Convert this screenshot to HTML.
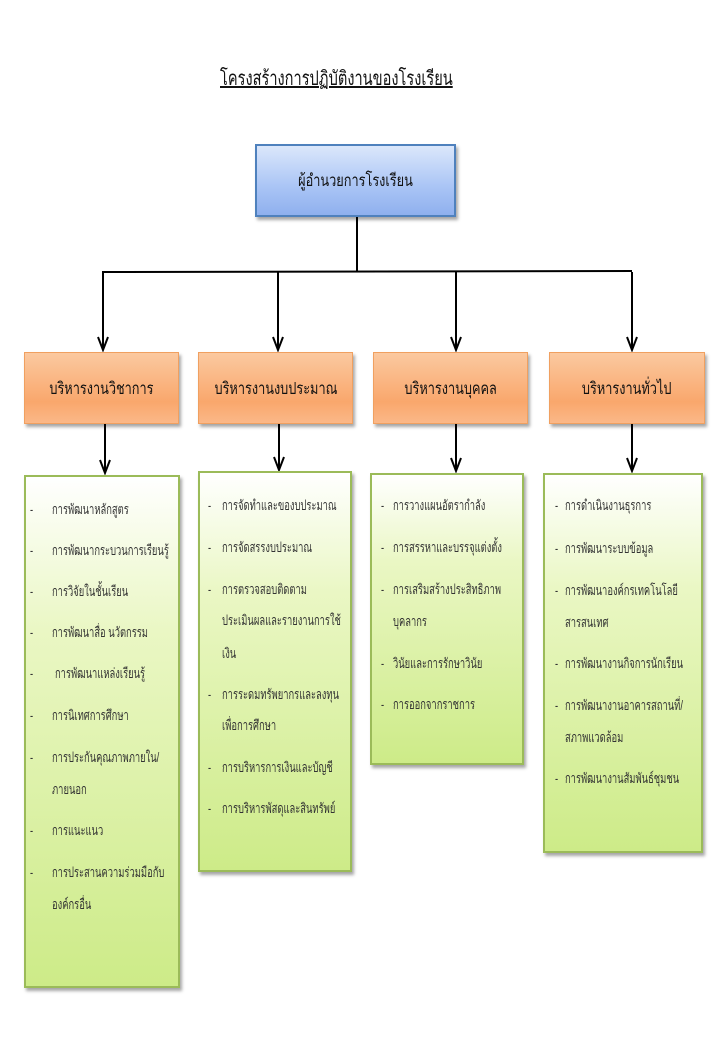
<!DOCTYPE html>
<html><head><meta charset="utf-8"><style>
body{margin:0;width:720px;height:1040px;background:#fff;position:relative;overflow:hidden;font-family:"Liberation Sans","Noto Sans CJK SC",sans-serif;color:#222}
.a{position:absolute;white-space:nowrap}
.t .a{transform:scaleX(0.67);transform-origin:0 0}
.t{font-size:14px;line-height:16px;color:#333}
.box{position:absolute;box-sizing:border-box}
.or{background:linear-gradient(#fbc9a0,#f9a76c 70%,#fbb888);border:1px solid #f0a060;box-shadow:2px 3px 3px rgba(0,0,0,.35)}
.gr{background:linear-gradient(#fff 0%,#eaf7c4 30%,#cdeb88 100%);border:2px solid #9bbb59;box-shadow:2px 3px 3px rgba(0,0,0,.35)}
.h{font-size:17px;text-align:center;display:flex;align-items:center;justify-content:center;color:#111}
.h span{display:inline-block;transform:scaleX(0.75);white-space:nowrap}
</style></head><body>
<div class="a" style="left:220px;top:62px;font-size:20px;text-decoration:underline;color:#111;transform:scaleX(0.73);transform-origin:0 0">โครงสร้างการปฏิบัติงานของโรงเรียน</div>

<div class="box h" style="left:255px;top:144px;width:201px;height:73px;background:linear-gradient(#dbe7fb,#a9c4f5 60%,#8fb0ee);border:2px solid #4f81bd;box-shadow:2px 3px 3px rgba(0,0,0,.35)"><span>ผู้อำนวยการโรงเรียน</span></div>

<svg class="a" style="left:0;top:0" width="720" height="1040">
<g stroke="#000" stroke-width="2" fill="none">
<line x1="357" y1="217" x2="357" y2="272"/>
<line x1="102" y1="272" x2="632" y2="271"/>
<line x1="103" y1="272" x2="103" y2="350"/><path d="M98,337 L103,350 L108,337"/>
<line x1="278" y1="272" x2="278" y2="350"/><path d="M273,337 L278,350 L283,337"/>
<line x1="456" y1="272" x2="456" y2="350"/><path d="M451,337 L456,350 L461,337"/>
<line x1="632" y1="272" x2="632" y2="350"/><path d="M627,337 L632,350 L637,337"/>
<line x1="105" y1="424" x2="105" y2="473"/><path d="M100,460 L105,473 L110,460"/>
<line x1="279" y1="424" x2="279" y2="470"/><path d="M274,457 L279,470 L284,457"/>
<line x1="456" y1="424" x2="456" y2="471"/><path d="M451,458 L456,471 L461,458"/>
<line x1="632" y1="424" x2="632" y2="471"/><path d="M627,458 L632,471 L637,458"/>
</g></svg>

<div class="box or h" style="left:24px;top:352px;width:155px;height:72px"><span>บริหารงานวิชาการ</span></div>
<div class="box or h" style="left:198px;top:352px;width:155px;height:72px"><span>บริหารงานงบประมาณ</span></div>
<div class="box or h" style="left:373px;top:352px;width:155px;height:72px"><span>บริหารงานบุคคล</span></div>
<div class="box or h" style="left:549px;top:352px;width:156px;height:72px"><span>บริหารงานทั่วไป</span></div>

<div class="box gr" style="left:24px;top:475px;width:156px;height:513px"></div>
<div class="box gr" style="left:198px;top:471px;width:154px;height:401px"></div>
<div class="box gr" style="left:370px;top:473px;width:154px;height:292px"></div>
<div class="box gr" style="left:543px;top:473px;width:160px;height:380px"></div>

<div class="t">
<div class="a" style="left:30px;top:501px">-</div><div class="a" style="left:52px;top:501px">การพัฒนาหลักสูตร</div>
<div class="a" style="left:30px;top:542px">-</div><div class="a" style="left:52px;top:542px">การพัฒนากระบวนการเรียนรู้</div>
<div class="a" style="left:30px;top:583px">-</div><div class="a" style="left:52px;top:583px">การวิจัยในชั้นเรียน</div>
<div class="a" style="left:30px;top:624px">-</div><div class="a" style="left:52px;top:624px">การพัฒนาสื่อ นวัตกรรม</div>
<div class="a" style="left:30px;top:665px">-</div><div class="a" style="left:55px;top:665px">การพัฒนาแหล่งเรียนรู้</div>
<div class="a" style="left:30px;top:707px">-</div><div class="a" style="left:52px;top:707px">การนิเทศการศึกษา</div>
<div class="a" style="left:30px;top:749px">-</div><div class="a" style="left:52px;top:749px">การประกันคุณภาพภายใน/</div>
<div class="a" style="left:52px;top:781px">ภายนอก</div>
<div class="a" style="left:30px;top:822px">-</div><div class="a" style="left:52px;top:822px">การแนะแนว</div>
<div class="a" style="left:30px;top:864px">-</div><div class="a" style="left:52px;top:864px">การประสานความร่วมมือกับ</div>
<div class="a" style="left:52px;top:896px">องค์กรอื่น</div>

<div class="a" style="left:208px;top:497px">-</div><div class="a" style="left:222px;top:497px">การจัดทำและของบประมาณ</div>
<div class="a" style="left:208px;top:539px">-</div><div class="a" style="left:222px;top:539px">การจัดสรรงบประมาณ</div>
<div class="a" style="left:208px;top:581px">-</div><div class="a" style="left:222px;top:581px">การตรวจสอบติดตาม</div>
<div class="a" style="left:222px;top:612px">ประเมินผลและรายงานการใช้</div>
<div class="a" style="left:222px;top:645px">เงิน</div>
<div class="a" style="left:208px;top:686px">-</div><div class="a" style="left:222px;top:686px">การระดมทรัพยากรและลงทุน</div>
<div class="a" style="left:222px;top:717px">เพื่อการศึกษา</div>
<div class="a" style="left:208px;top:759px">-</div><div class="a" style="left:222px;top:759px">การบริหารการเงินและบัญชี</div>
<div class="a" style="left:208px;top:800px">-</div><div class="a" style="left:222px;top:800px">การบริหารพัสดุและสินทรัพย์</div>

<div class="a" style="left:381px;top:497px">-</div><div class="a" style="left:393px;top:497px">การวางแผนอัตรากำลัง</div>
<div class="a" style="left:381px;top:539px">-</div><div class="a" style="left:393px;top:539px">การสรรหาและบรรจุแต่งตั้ง</div>
<div class="a" style="left:381px;top:581px">-</div><div class="a" style="left:393px;top:581px">การเสริมสร้างประสิทธิภาพ</div>
<div class="a" style="left:393px;top:613px">บุคลากร</div>
<div class="a" style="left:381px;top:655px">-</div><div class="a" style="left:393px;top:655px">วินัยและการรักษาวินัย</div>
<div class="a" style="left:381px;top:696px">-</div><div class="a" style="left:393px;top:696px">การออกจากราชการ</div>

<div class="a" style="left:555px;top:497px">-</div><div class="a" style="left:565px;top:497px">การดำเนินงานธุรการ</div>
<div class="a" style="left:555px;top:540px">-</div><div class="a" style="left:565px;top:540px">การพัฒนาระบบข้อมูล</div>
<div class="a" style="left:555px;top:582px">-</div><div class="a" style="left:565px;top:582px">การพัฒนาองค์กรเทคโนโลยี</div>
<div class="a" style="left:565px;top:614px">สารสนเทศ</div>
<div class="a" style="left:555px;top:655px">-</div><div class="a" style="left:565px;top:655px">การพัฒนางานกิจการนักเรียน</div>
<div class="a" style="left:555px;top:697px">-</div><div class="a" style="left:565px;top:697px">การพัฒนางานอาคารสถานที่/</div>
<div class="a" style="left:565px;top:729px">สภาพแวดล้อม</div>
<div class="a" style="left:555px;top:770px">-</div><div class="a" style="left:565px;top:770px">การพัฒนางานสัมพันธ์ชุมชน</div>
</div>
</body></html>
